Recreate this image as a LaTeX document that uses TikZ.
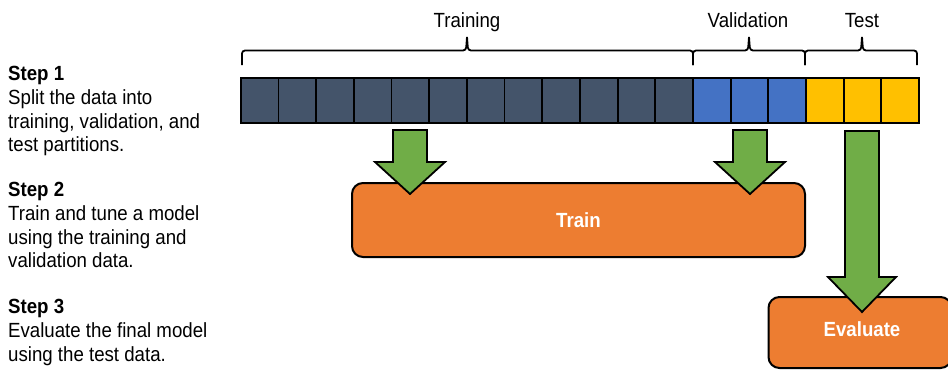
\documentclass[tikz,border=0pt]{standalone}
\usepackage{fontspec}
\setmainfont{Liberation Sans}[FakeStretch=0.91]
\definecolor{cdark}{HTML}{44546A}
\definecolor{cblue}{HTML}{4472C4}
\definecolor{cyell}{HTML}{FFC000}
\definecolor{cgreen}{HTML}{70AD47}
\definecolor{corange}{HTML}{ED7D31}
\begin{document}
\begin{tikzpicture}[x=1pt,y=-1pt,
  txt/.style={anchor=base west,inner sep=0pt,font=\fontsize{20.5}{24}\selectfont},
  lbl/.style={anchor=base,inner sep=0pt,font=\fontsize{20.5}{24}\selectfont},
  cell/.style={draw=black,line width=1.8pt,minimum width=37.67pt,minimum height=45pt,inner sep=0pt,anchor=north west},
  boxst/.style={draw=black,line width=2pt,fill=corange,rounded corners=11pt,inner sep=0pt,text=white,font=\bfseries\fontsize{20.5}{24}\selectfont},
  brc/.style={line width=1.8pt,rounded corners=3pt},
  blk/.style={draw=black,line width=1.8pt,fill=cgreen,line join=miter}]
\useasboundingbox (0,0) rectangle (948,370);
% left texts
\node[txt,font=\bfseries\fontsize{20.5}{24}\selectfont] (s1) at (8,80) {Step 1};
\node[txt] (s1a) at (8,104.5) {Split the data into};
\node[txt] (s1b) at (8,128) {training, validation, and};
\node[txt] (s1c) at (8,151.5) {test partitions.};
\node[txt,font=\bfseries\fontsize{20.5}{24}\selectfont] (s2) at (8,196) {Step 2};
\node[txt] (s2a) at (8,220.5) {Train and tune a model};
\node[txt] (s2b) at (8,244) {using the training and};
\node[txt] (s2c) at (8,267.5) {validation data.};
\node[txt,font=\bfseries\fontsize{20.5}{24}\selectfont] (s3) at (8,313) {Step 3};
\node[txt] (s3a) at (8,337.5) {Evaluate the final model};
\node[txt] (s3b) at (8,361) {using the test data.};
% top labels
\node[lbl] (ltr) at (467,27) {Training};
\node[lbl] (lva) at (748,27) {Validation};
\node[lbl] (lte) at (862,27) {Test};
% braces
\draw[brc] (242,65) -- (242,50.5) -- (466,50.5) -- (467,37);
\draw[brc] (467,37) -- (468,50.5) -- (693,50.5) -- (693,65);
\draw[brc] (693,65) -- (693,50.5) -- (748,50.5) -- (749,37);
\draw[brc] (749,37) -- (750,50.5) -- (805,50.5) -- (805,65);
\draw[brc] (805,65) -- (805,50.5) -- (861,50.5) -- (862,37);
\draw[brc] (862,37) -- (863,50.5) -- (917,50.5) -- (917,65);
% cells
\foreach \i in {0,...,17}{
  \ifnum\i<12 \def\cc{cdark}\else\ifnum\i<15 \def\cc{cblue}\else\def\cc{cyell}\fi\fi
  \node[cell,fill=\cc] (c\i) at ({240+\i*37.67},77) {};
}
% boxes
\node[boxst,minimum width=453pt,minimum height=74pt] (train) at (578.5,220) {Train};
\node[boxst,minimum width=183pt,minimum height=71pt] (eval) at (860,332.5) {};
\node[text=white,font=\bfseries\fontsize{20.5}{24}\selectfont,inner sep=0pt] (evl) at (862,329) {Evaluate};
% block arrows
\draw[blk] (393,130) -- (427,130) -- (427,162) -- (445,162) -- (410,194) -- (375,162) -- (393,162) -- cycle;
\draw[blk] (733,130) -- (767,130) -- (767,162) -- (785,162) -- (750,194) -- (715,162) -- (733,162) -- cycle;
\draw[blk] (845,131) -- (879,131) -- (879,277) -- (896,277) -- (862,312) -- (828,277) -- (845,277) -- cycle;
\end{tikzpicture}
\end{document}
